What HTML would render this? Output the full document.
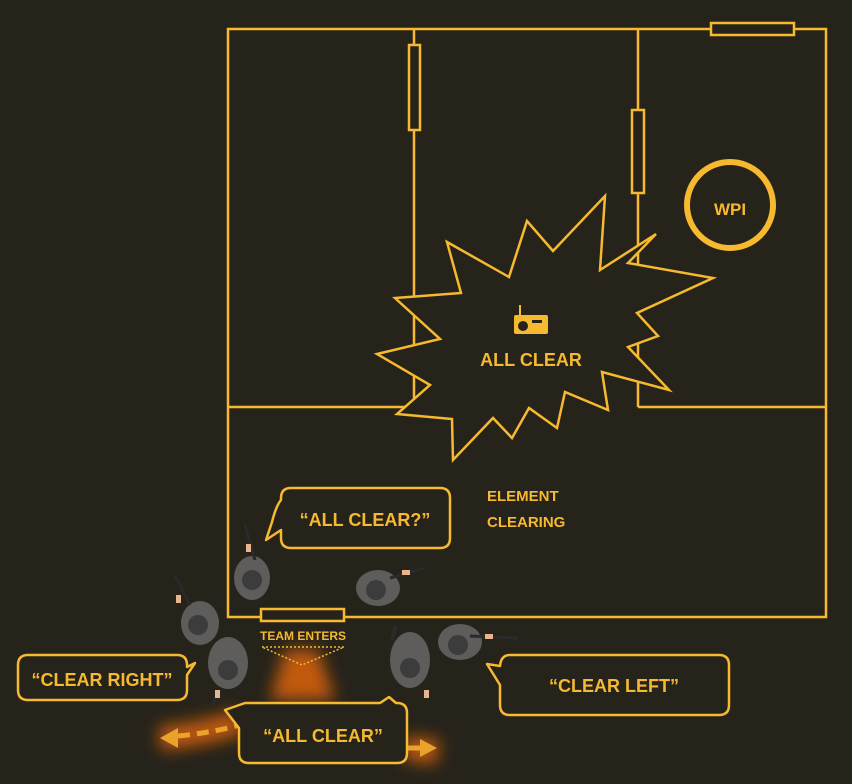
<!DOCTYPE html>
<html><head><meta charset="utf-8"><style>
html,body{margin:0;padding:0;background:#26231b;}
svg{display:block}
text{font-family:"Liberation Sans Narrow","Liberation Sans",sans-serif;fill:#f6b92f;font-weight:bold;}
</style></head><body>
<svg width="852" height="784" viewBox="0 0 852 784" xmlns="http://www.w3.org/2000/svg">
<defs>
<filter id="blur" filterUnits="userSpaceOnUse" x="0" y="550" width="852" height="234"><feGaussianBlur stdDeviation="8"/></filter>
</defs>
<rect width="852" height="784" fill="#26231b"/>
<g fill="none" stroke="#f6b92f" stroke-width="2.5">
<rect x="228" y="29" width="598" height="588"/>
<line x1="414" y1="29" x2="414" y2="407"/>
<line x1="638" y1="29" x2="638" y2="407"/>
<line x1="228" y1="407" x2="414" y2="407"/>
<line x1="638" y1="407" x2="826" y2="407"/>
</g>
<g fill="#26231b" stroke="#f6b92f" stroke-width="2.5">
<rect x="409" y="45" width="11" height="85"/>
<rect x="632" y="110" width="12" height="83"/>
<rect x="711" y="23" width="83" height="12"/>
<rect x="261" y="609" width="83" height="12"/>
</g>
<circle cx="730" cy="205" r="43" fill="none" stroke="#f6b92f" stroke-width="6"/>
<text x="730" y="215" font-size="17" text-anchor="middle">WPI</text>
<polygon fill="#26231b" stroke="#f6b92f" stroke-width="2.5" points="605,196 600,270 656,234 628,263 713,278 637,313 658,336 628,347 669,390 602,372 608,410 565,392 557,428 529,408 512,438 493,418 453,460 452,419 397,414 430,385 377,354 440,339 395,298 461,293 447,242 509,277 527,221 553,251"/>
<rect x="514" y="315" width="34" height="19" rx="2" fill="#f6b92f"/>
<line x1="520" y1="305" x2="520" y2="316" stroke="#f6b92f" stroke-width="2"/>
<circle cx="523" cy="326" r="5" fill="#26231b"/>
<rect x="532" y="320" width="10" height="3" fill="#26231b"/>
<text x="531" y="366" font-size="18" text-anchor="middle">ALL CLEAR</text>
<text x="487" y="501" font-size="15">ELEMENT</text>
<text x="487" y="527" font-size="15">CLEARING</text>
<!-- glow -->
<path d="M285,650 L318,650 L335,700 L270,700 Z" fill="#c25a0c" filter="url(#blur)"/>
<path d="M160,738 Q200,735 240,722" stroke="#c25a0c" stroke-width="24" fill="none" filter="url(#blur)"/>
<path d="M405,748 L438,752" stroke="#c25a0c" stroke-width="24" fill="none" filter="url(#blur)"/>
<text x="303" y="640" font-size="12" text-anchor="middle">TEAM ENTERS</text>
<path d="M262,647 L344,647 L302,665 Z" fill="none" stroke="#f6b92f" stroke-width="1.5" stroke-dasharray="2,2"/>
<path d="M178,736 Q210,733 240,725" stroke="#e9a22a" stroke-width="5" fill="none" stroke-dasharray="12,7"/>
<polygon points="160,738 178,728 178,748" fill="#e9a22a"/>
<line x1="405" y1="748" x2="422" y2="748" stroke="#e9a22a" stroke-width="5"/>
<polygon points="437,748 420,739 420,757" fill="#e9a22a"/>
<!-- soldiers -->
<g fill="#5e5d5b">
<ellipse cx="252" cy="578" rx="18" ry="22"/><circle cx="252" cy="580" r="10" fill="#3c3c3c"/>
<line x1="255" y1="560" x2="245" y2="525" stroke="#2a2a2a" stroke-width="3"/>
<ellipse cx="378" cy="588" rx="22" ry="18"/><circle cx="376" cy="590" r="10" fill="#3c3c3c"/>
<line x1="390" y1="578" x2="425" y2="568" stroke="#2a2a2a" stroke-width="3"/>
<ellipse cx="200" cy="623" rx="19" ry="22"/><circle cx="198" cy="625" r="10" fill="#3c3c3c"/>
<line x1="190" y1="605" x2="175" y2="575" stroke="#2a2a2a" stroke-width="3"/>
<ellipse cx="228" cy="663" rx="20" ry="26"/><circle cx="228" cy="670" r="10" fill="#3c3c3c"/>
<line x1="220" y1="690" x2="212" y2="705" stroke="#2a2a2a" stroke-width="3"/>
<ellipse cx="410" cy="660" rx="20" ry="28"/><circle cx="410" cy="668" r="10" fill="#3c3c3c"/>
<line x1="396" y1="625" x2="392" y2="640" stroke="#2a2a2a" stroke-width="4"/>
<ellipse cx="460" cy="642" rx="22" ry="18"/><circle cx="458" cy="645" r="10" fill="#3c3c3c"/>
<line x1="470" y1="636" x2="518" y2="638" stroke="#2a2a2a" stroke-width="3"/>
</g>
<g fill="#e7b58f">
<rect x="246" y="544" width="5" height="8"/><rect x="176" y="595" width="5" height="8"/>
<rect x="402" y="570" width="8" height="5"/><rect x="485" y="634" width="8" height="5"/>
<rect x="215" y="690" width="5" height="8"/><rect x="424" y="690" width="5" height="8"/>
</g>
<!-- bubbles -->
<g fill="#26231b" stroke="#f6b92f" stroke-width="2.5" stroke-linejoin="round">
<path d="M291,488 H440 Q450,488 450,498 V538 Q450,548 440,548 H291 Q281,548 281,538 V530 L266,540 L272,522 Q276,506 281,500 V498 Q281,488 291,488 Z"/>
<path d="M28,655 H177 Q187,655 187,665 V667 L195,663 L187,675 V690 Q187,700 177,700 H28 Q18,700 18,690 V665 Q18,655 28,655 Z"/>
<path d="M249,703 H380 L389,697 L396,703 H397 Q407,703 407,713 V753 Q407,763 397,763 H249 Q239,763 239,753 V728 L225,710 L245,703 Z"/>
<path d="M510,655 H719 Q729,655 729,665 V705 Q729,715 719,715 H510 Q500,715 500,705 V685 L487,664 L500,666 Q501,655 510,655 Z"/>
</g>
<text x="365" y="526" font-size="18" text-anchor="middle">“ALL CLEAR?”</text>
<text x="102" y="686" font-size="18" text-anchor="middle">“CLEAR RIGHT”</text>
<text x="323" y="742" font-size="18" text-anchor="middle">“ALL CLEAR”</text>
<text x="614" y="692" font-size="18" text-anchor="middle">“CLEAR LEFT”</text>
</svg>
</body></html>
